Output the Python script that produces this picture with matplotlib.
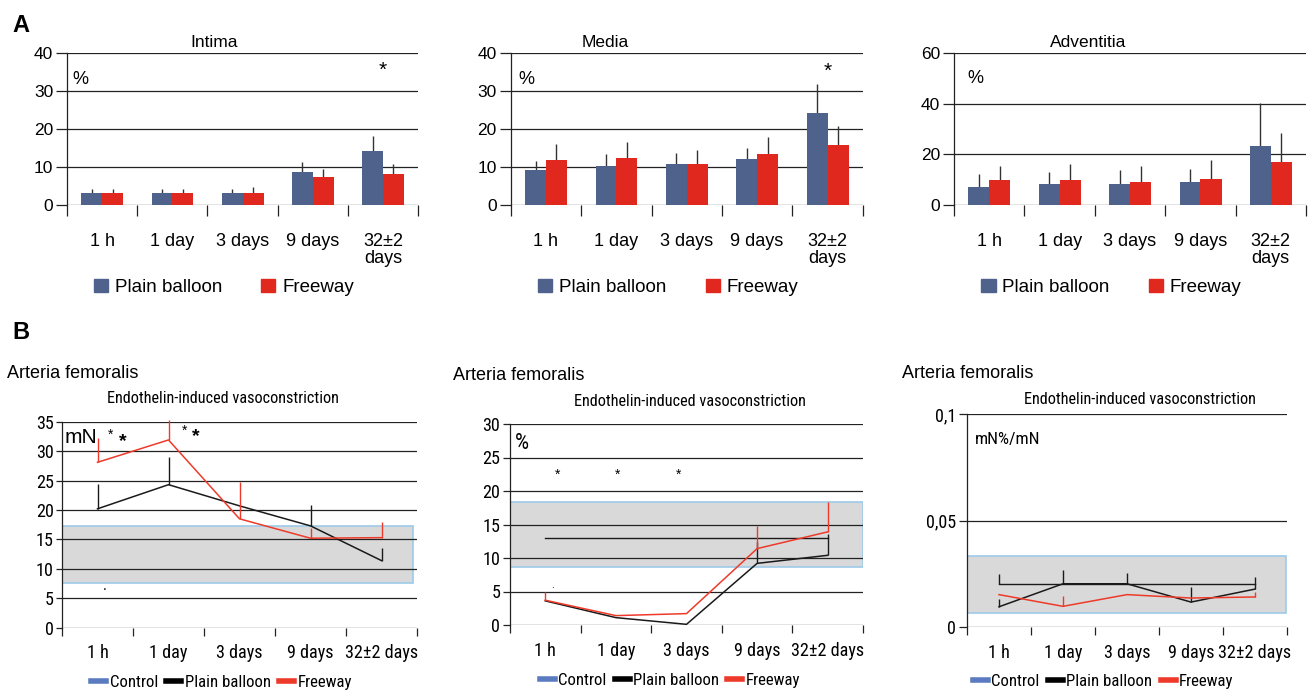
import numpy as np
import matplotlib
matplotlib.use("Agg")
import matplotlib.pyplot as plt
from matplotlib import font_manager as fm
from matplotlib.patches import Patch
from matplotlib.lines import Line2D


def has_font(name):
    try:
        fm.findfont(fm.FontProperties(family=name), fallback_to_default=False)
        return True
    except Exception:
        return False


def base_rank(base, prefs):
    for i, p in enumerate(prefs):
        if p in base:
            return (i,)
    return (len(prefs),)


def find_narrow():
    # look for any condensed / narrow sans face installed
    prefs = ["liberationsansnarrow", "arialnarrow", "notosans-condensed", "notosanscondensed",
             "opensans-condensed", "opensanscondensed", "robotocondensed", "dejavusanscondensed"]
    skip = ["mono", "serif", "bold", "italic", "oblique", "light", "medium", "semi",
            "extra", "thin", "black"]
    cands = []
    for f in fm.fontManager.ttflist:
        base = f.fname.lower().replace("_", "").split("/")[-1]
        if any(s in base for s in skip):
            continue
        if "narrow" in base or "condensed" in base:
            cands.append(base_rank(base, prefs) + (f.fname,))
    if cands:
        cands.sort()
        return cands[0][-1]
    return None


REG = "Liberation Sans" if has_font("Liberation Sans") else "DejaVu Sans"
plt.rcParams["font.family"] = REG
narrow_path = find_narrow()

W, H = 1311, 691
fig = plt.figure(figsize=(W / 100, H / 100), dpi=100)


def raw_fp(size):
    if narrow_path:
        return fm.FontProperties(fname=narrow_path, size=size)
    return fm.FontProperties(family=REG, size=size)


# scale the narrow face so the subtitle is as wide as in the reference (~232 px)
_t = fig.text(0, 0, "Endothelin-induced vasoconstriction", fontproperties=raw_fp(13))
_w = _t.get_window_extent(renderer=fig.canvas.get_renderer()).width
_t.remove()
NSCALE = min(1.0, 232.0 / _w)


def nfp(size):
    return raw_fp(size * NSCALE)


BLUE = "#4E628C"
RED = "#E0281E"
LRED = "#EE3A2A"
GRID = "#222222"

# ---------------- data: panel A (bars) ----------------
cats_a = ["1 h", "1 day", "3 days", "9 days", "32±2\ndays"]

intima_plain = [3.2, 3.2, 3.2, 8.6, 14.1]
intima_plain_err = [1.0, 1.0, 1.0, 2.6, 4.1]
intima_free = [3.2, 3.2, 3.2, 7.5, 8.2]
intima_free_err = [1.0, 1.0, 1.6, 2.1, 2.5]

media_plain = [9.2, 10.2, 10.9, 12.0, 24.3]
media_plain_err = [2.5, 3.1, 2.9, 3.1, 7.6]
media_free = [11.9, 12.5, 10.9, 13.5, 15.8]
media_free_err = [4.1, 4.2, 3.5, 4.3, 5.1]

adv_plain = [7.1, 8.3, 8.1, 8.9, 23.4]
adv_plain_err = [5.0, 4.6, 5.6, 5.4, 16.8]
adv_free = [9.7, 9.7, 8.9, 10.4, 17.1]
adv_free_err = [5.7, 6.4, 6.6, 7.3, 11.3]

# ---------------- data: panel B (lines) ----------------
cats_b = ["1 h", "1 day", "3 days", "9 days", "32±2 days"]
nan = np.nan

force_free = [28.1, 31.9, 18.5, 15.2, 15.3]
force_free_err = [4.2, 3.4, 6.3, 1.8, 2.7]
force_plain = [20.2, 24.3, 20.7, 17.3, 11.4]
force_plain_err = [4.2, 4.7, nan, 3.5, 2.1]
force_ctrl_band = (7.6, 17.3)

pct_free = [3.7, 1.4, 1.7, 11.4, 13.9]
pct_free_err = [1.3, nan, nan, 3.4, 4.5]
pct_plain = [3.6, 1.1, 0.1, 9.2, 10.4]
pct_plain_err = [nan, nan, nan, 3.2, 3.2]
pct_ctrl = [13.0, 13.0, 13.0, 13.0, 13.0]
pct_ctrl_band = (8.7, 18.4)

ratio_free = [0.0152, 0.0097, 0.0152, 0.0136, 0.0141]
ratio_free_err = [nan, 0.0050, nan, nan, 0.0023]
ratio_plain = [0.0095, 0.0203, 0.0203, 0.0117, 0.0178]
ratio_plain_err = [0.0035, 0.0063, 0.0052, 0.0073, 0.0056]
ratio_ctrl = [0.020, 0.020, 0.020, 0.020, 0.020]
ratio_ctrl_err = [0.005, nan, nan, nan, nan]
ratio_ctrl_band = (0.0064, 0.0331)


def px_axes(l, r, t, b):
    return fig.add_axes([l / W, 1 - b / H, (r - l) / W, (b - t) / H])


def style_axes(ax, ymax, yticks, ytick_len, xtick_len, label_pad, xlabels, fp_tick, fp_x):
    ax.set_xlim(0, 5)
    ax.set_ylim(0, ymax)
    for s in ["top", "right", "bottom"]:
        ax.spines[s].set_visible(False)
    ax.spines["left"].set_color(GRID)
    ax.spines["left"].set_linewidth(0.9)
    ax.set_yticks(yticks)
    ax.tick_params(axis="y", length=ytick_len, width=0.9, color=GRID, pad=2)
    for lab in ax.get_yticklabels():
        lab.set_fontproperties(fp_tick)
    for y in yticks:
        ax.axhline(y, color=GRID, lw=0.9, zorder=0.6)
    ax.set_xticks(np.arange(6))
    ax.set_xticklabels([])
    ax.tick_params(axis="x", which="major", length=xtick_len, width=0.9, color=GRID)
    ax.set_xticks(np.arange(5) + 0.5, minor=True)
    ax.set_xticklabels(xlabels, minor=True, linespacing=1.0)
    for lab in ax.get_xticklabels(minor=True):
        lab.set_fontproperties(fp_x)
    ax.tick_params(axis="x", which="minor", length=0, pad=label_pad)


# ---------------- panel A ----------------
top_panels = [
    (67, 418, "Intima", 0.42, intima_plain, intima_plain_err, intima_free, intima_free_err,
     40, [0, 10, 20, 30, 40], (0.19, 33), 35.4),
    (510.7, 862.7, "Media", 0.268, media_plain, media_plain_err, media_free, media_free_err,
     40, [0, 10, 20, 30, 40], (0.22, 33), 35.3),
    (954, 1306, "Adventitia", 0.38, adv_plain, adv_plain_err, adv_free, adv_free_err,
     60, [0, 20, 40, 60], (0.30, 50), None),
]

x = np.arange(5)
for (l, r, title, tx, pv, pe, fv, fe, ymax, yt, pct, star) in top_panels:
    ax = px_axes(l, r, 53, 205)
    style_axes(ax, ymax, yt, 8, 8, 20, cats_a,
               fm.FontProperties(family=REG, size=12.5), fm.FontProperties(family=REG, size=13))
    ax.bar(x + 0.205, pv, width=0.295, align="edge", color=BLUE, zorder=2)
    ax.bar(x + 0.5, fv, width=0.3, align="edge", color=RED, zorder=2)
    ax.errorbar(x + 0.3525, pv, yerr=[np.zeros(5), pe], fmt="none", ecolor="#333333",
                elinewidth=1, capsize=0, zorder=1.5)
    ax.errorbar(x + 0.65, fv, yerr=[np.zeros(5), fe], fmt="none", ecolor="#333333",
                elinewidth=1, capsize=0, zorder=1.5)
    ax.text(tx, 1.07, title, transform=ax.transAxes, ha="center", va="center", fontsize=12.5)
    ax.text(pct[0], pct[1], "%", ha="center", va="center", fontsize=13)
    if star is not None:
        ax.text(4.5, star, "*", ha="center", va="center", fontsize=15)
    ax.legend(handles=[Patch(color=BLUE, label="Plain balloon"),
                       Patch(color=RED, label="Freeway")],
              loc="center", bbox_to_anchor=(0.447, -0.54), ncol=2, frameon=False,
              fontsize=13.5, handlelength=0.75, handleheight=0.7, handletextpad=0.35,
              columnspacing=2.1, borderpad=0)

fig.text(12 / W, 1 - 26 / H, "A", fontsize=17, fontweight="bold", va="center", ha="left")
fig.text(12 / W, 1 - 332 / H, "B", fontsize=17, fontweight="bold", va="center", ha="left")

# ---------------- panel B ----------------
bx = np.arange(5) + 0.5
leg_handles = [Line2D([], [], color="#5B7BC0", lw=4, label="Control"),
               Line2D([], [], color="black", lw=4, label="Plain balloon"),
               Line2D([], [], color=LRED, lw=4, label="Freeway")]


def line_panel(ax, plain, plain_err, free, free_err):
    ax.plot(bx, plain, color="#1a1a1a", lw=1.1, zorder=3, clip_on=False)
    ax.plot(bx, free, color=LRED, lw=1.1, zorder=3.1, clip_on=False)
    pe = np.array(plain_err, dtype=float)
    fe = np.array(free_err, dtype=float)
    ax.errorbar(bx, plain, yerr=[np.zeros(5), pe], fmt="none", ecolor="#1a1a1a",
                elinewidth=1, capsize=0, zorder=3, clip_on=False)
    ax.errorbar(bx, free, yerr=[np.zeros(5), fe], fmt="none", ecolor=LRED,
                elinewidth=1, capsize=0, zorder=3.1, clip_on=False)


def band(ax, lohi, x0, x1):
    ax.axhspan(lohi[0], lohi[1], xmin=x0, xmax=x1, facecolor="#D9D9D9",
               edgecolor="#9CCBE8", lw=1.2, zorder=0.3)


def sub_title(ax, xf, yf):
    ax.text(xf, yf, "Endothelin-induced vasoconstriction", transform=ax.transAxes,
            ha="center", va="center", fontproperties=nfp(13))


def b_legend(ax, xf, yf):
    ax.legend(handles=leg_handles, loc="center", bbox_to_anchor=(xf, yf), ncol=3,
              frameon=False, prop=nfp(13.4), handlelength=0.9,
              handletextpad=0.2, columnspacing=0.5, borderpad=0)


# left: force
ax = px_axes(62, 417, 421.7, 627.7)
style_axes(ax, 35, list(range(0, 36, 5)), 4, 6, 12, cats_b, nfp(14.5), nfp(14.5))
band(ax, force_ctrl_band, -0.007, 0.988)
line_panel(ax, force_plain, force_plain_err, force_free, force_free_err)
ax.text(0.27, 32.4, "mN", ha="center", va="center", fontsize=15)
ax.text(0.69, 32.7, "*", ha="center", va="center", fontsize=10)
ax.text(0.85, 31.6, "*", ha="center", va="center", fontsize=14, fontweight="bold")
ax.text(1.72, 33.4, "*", ha="center", va="center", fontsize=10)
ax.text(1.89, 32.4, "*", ha="center", va="center", fontsize=14, fontweight="bold")
ax.text(0.6, 7.0, ".", ha="center", va="center", fontsize=10)
sub_title(ax, 0.454, 1.115)
b_legend(ax, 0.45, -0.265)
fig.text(7 / W, 1 - 373 / H, "Arteria femoralis", fontsize=13, va="center", ha="left")

# middle: percent
ax = px_axes(510, 863, 424, 625)
style_axes(ax, 30, list(range(0, 31, 5)), 5, 6, 12, cats_b, nfp(14.5), nfp(14.5))
band(ax, pct_ctrl_band, 0.0, 1.0)
ax.plot(bx, pct_ctrl, color="#1a1a1a", lw=1.0, zorder=2.5)
line_panel(ax, pct_plain, pct_plain_err, pct_free, pct_free_err)
ax.text(0.17, 27.1, "%", ha="center", va="center", fontproperties=nfp(18))
for sx in [0.67, 1.52, 2.39]:
    ax.text(sx, 22.4, "*", ha="center", va="center", fontsize=10)
ax.text(0.6, 6.0, ".", ha="center", va="center", fontsize=7)
sub_title(ax, 0.51, 1.114)
b_legend(ax, 0.453, -0.275)
fig.text(453 / W, 1 - 375 / H, "Arteria femoralis", fontsize=13, va="center", ha="left")

# right: ratio
ax = px_axes(967, 1287, 414, 627)
style_axes(ax, 0.1, [0, 0.05, 0.1], 6, 6, 12, cats_b, nfp(14.5), nfp(14.5))
ax.set_yticklabels(["0", "0,05", "0,1"])
for lab in ax.get_yticklabels():
    lab.set_fontproperties(nfp(14.5))
band(ax, ratio_ctrl_band, 0.0, 0.996)
ax.plot(bx, ratio_ctrl, color="#1a1a1a", lw=1.0, zorder=2.5)
ax.errorbar(bx, ratio_ctrl, yerr=[np.zeros(5), ratio_ctrl_err], fmt="none",
            ecolor="#1a1a1a", elinewidth=1, capsize=0, zorder=2.5)
line_panel(ax, ratio_plain, ratio_plain_err, ratio_free, ratio_free_err)
ax.text(0.13, 0.088, "mN%/mN", ha="left", va="center", fontproperties=nfp(14))
sub_title(ax, 0.54, 1.07)
b_legend(ax, 0.426, -0.255)
fig.text(902 / W, 1 - 373 / H, "Arteria femoralis", fontsize=13, va="center", ha="left")

fig.savefig("out.png", dpi=100)
